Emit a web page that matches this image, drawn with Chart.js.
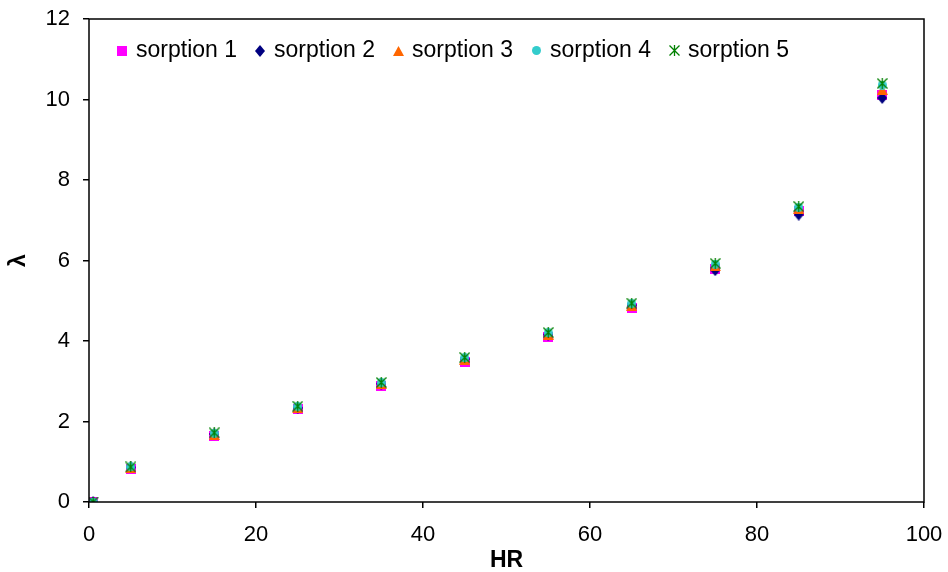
<!DOCTYPE html>
<html>
<head>
<meta charset="utf-8">
<script src="https://cdn.jsdelivr.net/npm/chart.js@4.4.1/dist/chart.umd.min.js"></script>
<style>
html,body{margin:0;padding:0;background:#fff;}
canvas{display:block;}
</style>
</head>
<body>
<canvas id="c" width="948" height="572"></canvas>
<script>
// ---- data ----
const hr = [0.5, 5, 15, 25, 35, 45, 55, 65, 75, 85, 95];
const sorption1 = [0, 0.82, 1.64, 2.30, 2.89, 3.49, 4.11, 4.83, 5.79, 7.24, 10.12];
const sorption2 = [0, 0.86, 1.69, 2.34, 2.94, 3.55, 4.16, 4.89, 5.76, 7.14, 10.04];
const sorption3 = [0, 0.84, 1.67, 2.33, 2.93, 3.54, 4.16, 4.88, 5.86, 7.29, 10.24];
const sorption4 = [0, 0.87, 1.71, 2.37, 2.96, 3.58, 4.20, 4.93, 5.91, 7.32, 10.36];
const sorption5 = [0, 0.87, 1.72, 2.38, 2.97, 3.59, 4.21, 4.94, 5.93, 7.34, 10.40];
const seriesNames = ['sorption 1', 'sorption 2', 'sorption 3', 'sorption 4', 'sorption 5'];
const xTickValues = [0, 20, 40, 60, 80, 100];
const yTickValues = [0, 2, 4, 6, 8, 10, 12];
const xTitle = 'HR';
const yTitle = 'λ';

// ---- marker images ----
function mk(w, h, draw) {
  const c = document.createElement('canvas');
  c.width = w; c.height = h;
  draw(c.getContext('2d'), w, h);
  return c;
}
const mSquare = mk(10, 10, (g) => { g.fillStyle = '#FF00FF'; g.fillRect(0, 0, 10, 10); });
const mDiamond = mk(10, 12, (g) => {
  g.fillStyle = '#000080'; g.beginPath();
  g.moveTo(5, 0); g.lineTo(10, 6); g.lineTo(5, 12); g.lineTo(0, 6); g.closePath(); g.fill();
});
const mTriangle = mk(11, 10, (g) => {
  g.fillStyle = '#FF6600'; g.beginPath();
  g.moveTo(5.5, 0); g.lineTo(11, 10); g.lineTo(0, 10); g.closePath(); g.fill();
});
const mCircle = mk(9, 9, (g) => {
  g.fillStyle = '#33CCCC'; g.beginPath(); g.arc(4.5, 4.5, 4.5, 0, Math.PI * 2); g.fill();
});
const mStar = mk(11, 11, (g) => {
  g.strokeStyle = '#008000'; g.lineWidth = 1.3; g.beginPath();
  g.moveTo(0.5, 0.5); g.lineTo(10.5, 10.5);
  g.moveTo(10.5, 0.5); g.lineTo(0.5, 10.5);
  g.moveTo(5.5, 0); g.lineTo(5.5, 11);
  g.stroke();
});

const seriesValues = [sorption1, sorption2, sorption3, sorption4, sorption5];
const markers = [mSquare, mDiamond, mTriangle, mCircle, mStar];
const colors = ['#FF00FF', '#000080', '#FF6600', '#33CCCC', '#008000'];

const datasets = seriesValues.map((vals, i) => ({
  label: seriesNames[i],
  data: hr.map((x, k) => ({ x: x, y: vals[k] })),
  pointStyle: markers[i],
  pointRadius: 5,
  backgroundColor: colors[i],
  borderColor: colors[i],
  showLine: false,
  order: 5 - i
}));

const FONT = "'Liberation Sans', Arial, sans-serif";

const framePlugin = {
  id: 'frame',
  afterDraw(chart) {
    const a = chart.chartArea, ctx = chart.ctx;
    ctx.save();
    ctx.strokeStyle = '#000';
    ctx.lineWidth = 1.5;
    ctx.strokeRect(a.left, a.top, a.right - a.left, a.bottom - a.top);
    ctx.restore();
  }
};

// horizontal legend drawn inside the plot area, top-left
const insideLegend = {
  id: 'insideLegend',
  afterDraw(chart) {
    const ctx = chart.ctx, a = chart.chartArea;
    ctx.save();
    ctx.font = '23px ' + FONT;
    ctx.fillStyle = '#000';
    ctx.textBaseline = 'middle';
    ctx.textAlign = 'left';
    const y = a.top + 31.5;
    let cx = a.left + 33;
    chart.data.datasets.forEach((ds) => {
      const img = ds.pointStyle;
      ctx.drawImage(img, Math.round(cx - img.width / 2), Math.round(y - img.height / 2));
      const tx = cx + 14;
      ctx.fillText(ds.label, tx, y);
      cx = tx + ctx.measureText(ds.label).width + 23;
    });
    ctx.restore();
  }
};

new Chart(document.getElementById('c'), {
  type: 'scatter',
  data: { datasets },
  plugins: [framePlugin, insideLegend],
  options: {
    responsive: false,
    animation: false,
    devicePixelRatio: 1,
    events: [],
    layout: { autoPadding: false, padding: { left: 0, right: 24, top: 19, bottom: 0 } },
    plugins: {
      tooltip: { enabled: false },
      legend: { display: false }
    },
    scales: {
      x: {
        type: 'linear',
        min: xTickValues[0],
        max: xTickValues[xTickValues.length - 1],
        afterBuildTicks: (s) => { s.ticks = xTickValues.map(v => ({ value: v })); },
        afterFit: (s) => { s.height = 70; s.paddingLeft = 0; s.paddingRight = 0; },
        grid: { display: true, drawOnChartArea: false, drawTicks: true, tickLength: 6, color: '#000', lineWidth: 1.5 },
        border: { display: false },
        ticks: { color: '#000', padding: 14, font: { family: FONT, size: 22 }, maxRotation: 0 },
        title: { display: true, text: xTitle, color: '#000', font: { family: FONT, size: 23, weight: 'bold', lineHeight: 1 }, padding: { top: 0, bottom: 0 } }
      },
      y: {
        type: 'linear',
        min: yTickValues[0],
        max: yTickValues[yTickValues.length - 1],
        afterBuildTicks: (s) => { s.ticks = yTickValues.map(v => ({ value: v })); },
        afterFit: (s) => { s.width = 89; s.paddingTop = 0; s.paddingBottom = 0; },
        grid: { display: true, drawOnChartArea: false, drawTicks: true, tickLength: 6, color: '#000', lineWidth: 1.5 },
        border: { display: false },
        ticks: { color: '#000', padding: 13, font: { family: FONT, size: 22 } },
        title: { display: true, text: yTitle, color: '#000', font: { family: FONT, size: 23, weight: 'bold', lineHeight: 1 }, padding: { top: 7, bottom: 0 } }
      }
    }
  }
});
</script>
</body>
</html>
